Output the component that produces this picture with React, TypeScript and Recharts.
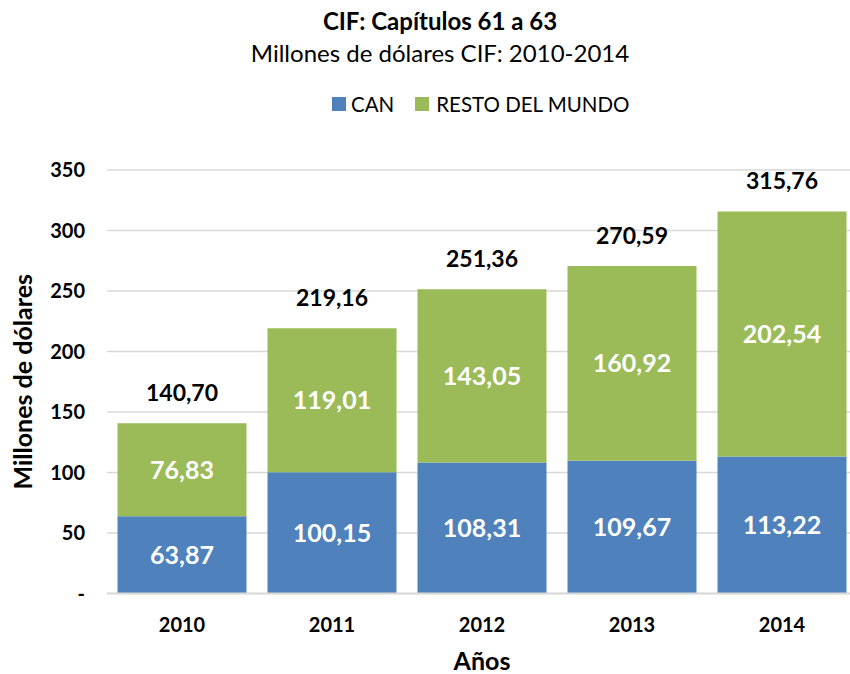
import React from 'react';
import { BarChart, Bar, XAxis, YAxis, CartesianGrid, LabelList } from 'recharts';

const years = ['2010', '2011', '2012', '2013', '2014'];
const canValues = [63.87, 100.15, 108.31, 109.67, 113.22];
const restoValues = [76.83, 119.01, 143.05, 160.92, 202.54];
const totalValues = [140.7, 219.16, 251.36, 270.59, 315.76];
const yTicks = [0, 50, 100, 150, 200, 250, 300, 350];

const data = years.map((y, i) => ({ year: y, can: canValues[i], resto: restoValues[i], total: totalValues[i] }));

const BLUE = '#4F81BD';
const GREEN = '#9BBB59';
const FONT = 'Lato, "Noto Sans", sans-serif';

const fmt = (v: number) => v.toFixed(2).replace('.', ',');

const TotalLabel = (props: any) => {
  const { x, y, width, index } = props;
  return (
    <text x={x + width / 2} y={y - 22} textAnchor="middle" fill="#000" fontWeight={700} fontSize={23} fontFamily={FONT}>
      {fmt(totalValues[index])}
    </text>
  );
};

export default function App() {
  return (
    <div style={{ position: 'absolute', left: 0, top: 0, width: 850, height: 674, overflow: 'hidden', background: '#fff', fontFamily: FONT }}>
      <div style={{ position: 'absolute', top: 6, left: 30, width: 820, textAlign: 'center', fontWeight: 700, fontSize: 24, color: '#000', lineHeight: '30px' }}>
        CIF: Capítulos 61 a 63
      </div>
      <div style={{ position: 'absolute', top: 38, left: 30, width: 820, textAlign: 'center', fontSize: 24, color: '#000', lineHeight: '30px' }}>
        Millones de dólares CIF: 2010-2014
      </div>
      <div style={{ position: 'absolute', top: 91, left: 332, display: 'flex', fontFamily: FONT, fontSize: 20.5, color: '#000', lineHeight: '26px' }}>
        <div style={{ display: 'flex', alignItems: 'center', marginRight: 21 }}>
          <span style={{ width: 14, height: 14, background: BLUE, display: 'inline-block', marginRight: 5 }} />
          <span>CAN</span>
        </div>
        <div style={{ display: 'flex', alignItems: 'center' }}>
          <span style={{ width: 14, height: 14, background: GREEN, display: 'inline-block', marginRight: 7 }} />
          <span>RESTO DEL MUNDO</span>
        </div>
      </div>
      <BarChart width={858} height={674} data={data} margin={{ top: 170, right: 1, bottom: 0, left: 0 }} barCategoryGap="7%">
        <CartesianGrid vertical={false} stroke="#D9D9D9" strokeWidth={1.5} />
        <XAxis
          dataKey="year"
          height={80.5}
          tickLine={false}
          axisLine={{ stroke: '#D9D9D9', strokeWidth: 2 }}
          tickMargin={18}
          tick={{ fill: '#000', fontSize: 20, fontWeight: 700, fontFamily: FONT }}
          label={(p: any) => {
            const vb = p.viewBox;
            return (
              <text x={vb.x + vb.width / 2} y={vb.y + 76.5} textAnchor="middle" fill="#000" fontWeight={700} fontSize={25} fontFamily={FONT}>
                Años
              </text>
            );
          }}
        />
        <YAxis
          width={107}
          domain={[0, 350]}
          ticks={yTicks}
          interval={0}
          tickLine={false}
          axisLine={false}
          tickMargin={16}
          tickFormatter={(v: number) => (v === 0 ? '-' : String(v))}
          tick={{ fill: '#000', fontSize: 20, fontWeight: 700, fontFamily: FONT }}
          label={(p: any) => {
            const vb = p.viewBox;
            const cx = 32;
            const cy = vb.y + vb.height / 2;
            return (
              <text x={cx} y={cy} transform={`rotate(-90 ${cx} ${cy})`} textAnchor="middle" fill="#000" fontWeight={700} fontSize={25} fontFamily={FONT}>
                Millones de dólares
              </text>
            );
          }}
        />
        <Bar dataKey="can" name="CAN" stackId="a" fill={BLUE} isAnimationActive={false}>
          <LabelList dataKey="can" position="center" fill="#fff" fontSize={25} fontWeight={700} fontFamily={FONT} formatter={(v: any) => fmt(Number(v))} />
        </Bar>
        <Bar dataKey="resto" name="RESTO DEL MUNDO" stackId="a" fill={GREEN} isAnimationActive={false}>
          <LabelList dataKey="resto" position="center" fill="#fff" fontSize={25} fontWeight={700} fontFamily={FONT} formatter={(v: any) => fmt(Number(v))} />
          <LabelList dataKey="total" content={TotalLabel} />
        </Bar>
      </BarChart>
    </div>
  );
}
